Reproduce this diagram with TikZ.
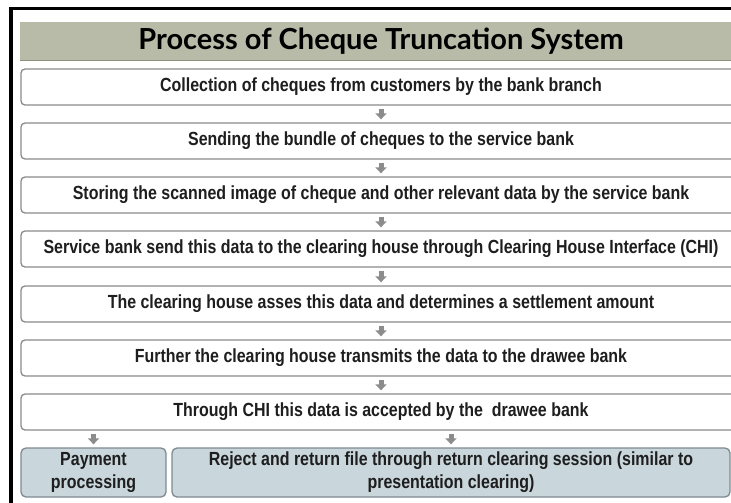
\documentclass[tikz,border=0pt]{standalone}
\usepackage{fontspec}
\usetikzlibrary{arrows.meta}
\newfontfamily\boxfont[FakeStretch=0.84]{Liberation Sans}
\newfontfamily\headfont{Lato}
\definecolor{barfill}{HTML}{B7BBA7}
\definecolor{barline}{HTML}{8E9180}
\definecolor{boxline}{HTML}{8A8A8A}
\definecolor{endfill}{HTML}{C9D6DC}
\definecolor{endline}{HTML}{7E8A90}
\definecolor{arrowgrey}{HTML}{8C8C8C}
\definecolor{ink}{HTML}{1E1E1E}
\tikzset{
  stepbox/.style={draw=boxline, line width=1.3pt, fill=white, rounded corners=4pt,
    minimum width=720pt, minimum height=36pt, inner sep=0pt,
    font=\boxfont\bfseries\fontsize{19}{22}\selectfont, text=ink},
  endbox/.style={draw=endline, line width=1.3pt, fill=endfill, rounded corners=5pt,
    minimum height=49pt, inner sep=0pt, align=center,
    font=\boxfont\bfseries\fontsize{19}{23}\selectfont, text=ink},
  titlebar/.style={fill=barfill, minimum width=722pt, minimum height=38pt, inner sep=0pt,
    font=\headfont\bfseries\fontsize{29}{32}\selectfont, text=black},
  flow/.style={draw=arrowgrey, line width=5pt, shorten <=3pt, shorten >=3pt,
    -{Triangle[width=11pt,length=6pt]}}
}
\begin{document}
\begin{tikzpicture}[x=1pt,y=1pt]
\useasboundingbox (0,0) rectangle (731,-503);
\clip (0,0) rectangle (731,-503);
% outer frame edges
\fill[black] (9,-7) rectangle (731,-10.5);
\fill[black] (9,-7) rectangle (13,-503);
% heading bar
\node[titlebar] (title) at (381,-41) {Process of Cheque Truncation System};
\draw[barline, line width=1.2pt] (title.south west) -- (title.south east);
% process steps
\node[stepbox] (s1) at (381,-87)  {Collection of cheques from customers by the bank branch};
\node[stepbox] (s2) at (381,-141) {Sending the bundle of cheques to the service bank};
\node[stepbox] (s3) at (381,-195) {Storing the scanned image of cheque and other relevant data by the service bank};
\node[stepbox] (s4) at (381,-249) {Service bank send this data to the clearing house through Clearing House Interface (CHI)};
\node[stepbox] (s5) at (381,-304) {The clearing house asses this data and determines a settlement amount};
\node[stepbox] (s6) at (381,-358) {Further the clearing house transmits the data to the drawee bank};
\node[stepbox] (s7) at (381,-412) {Through CHI this data is accepted by the~ drawee bank};
% outcomes
\node[endbox, minimum width=145pt] (pay) at (93.5,-472.5) {Payment\\processing};
\node[endbox, minimum width=558pt] (rej) at (451,-472.5)
  {Reject and return file through return clearing session (similar to\\presentation clearing)};
% connectors
\foreach \a/\b in {s1/s2,s2/s3,s3/s4,s4/s5,s5/s6,s6/s7}
  \draw[flow] (\a.south) -- (\b.north);
\draw[flow] (s7.south -| pay.north) -- (pay.north);
\draw[flow] (s7.south -| rej.north) -- (rej.north);
\end{tikzpicture}
\end{document}
